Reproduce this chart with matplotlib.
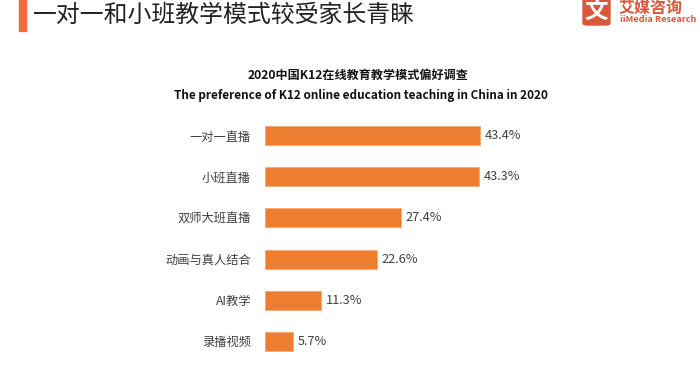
import matplotlib.pyplot as plt
from matplotlib.patches import FancyBboxPatch, Rectangle

plt.rcParams['font.family'] = ['Noto Sans CJK SC', 'DejaVu Sans']

# Data
categories = ["一对一直播", "小班直播", "双师大班直播", "动画与真人结合", "AI教学", "录播视频"]
values = [43.4, 43.3, 27.4, 22.6, 11.3, 5.7]
value_labels = ["43.4%", "43.3%", "27.4%", "22.6%", "11.3%", "5.7%"]

page_title = "一对一和小班教学模式较受家长青睐"
chart_title_cn = "2020中国K12在线教育教学模式偏好调查"
chart_title_en = "The preference of K12 online education teaching in China in 2020"

W, H = 700, 368
fig = plt.figure(figsize=(W / 100, H / 100), dpi=100)

# Header: accent bar + title
fig.patches.append(Rectangle((19 / W, 1 - 31 / H), 7 / W, 31 / H,
                             transform=fig.transFigure, color="#f26b3a", zorder=3))
fig.text(33 / W, 1 - 15 / H, page_title, fontsize=17.2, color="#222222",
         va="center", ha="left")

# Logo
fig.patches.append(FancyBboxPatch((583 / W, 1 - 25 / H), 27 / W, 27 / H,
                                  boxstyle="round,pad=0,rounding_size=0.006",
                                  transform=fig.transFigure, color="#d9573b", zorder=3))
fig.text(596.5 / W, 1 - 11 / H, "文", fontsize=17, color="white", weight="bold",
         ha="center", va="center", zorder=4)
fig.text(619 / W, 1 - 7.5 / H, "艾媒咨询", fontsize=11.5, color="#d9573b", weight="bold",
         ha="left", va="center")
fig.text(620 / W, 1 - 20 / H, "iiMedia Research", fontsize=6.6, color="#d9573b",
         weight="bold", ha="left", va="center")

# Chart titles
fig.text(358 / W, 1 - 75 / H, chart_title_cn, fontsize=8.7, color="#111111",
         weight="bold", ha="center", va="center")
fig.text(361 / W, 1 - 96 / H, chart_title_en, fontsize=8.5, color="#111111",
         weight="bold", ha="center", va="center")

# Bars
ax = fig.add_axes([265 / W, 1 - 362 / H, 247.5 / W, 247 / H])
y = list(range(len(categories)))
ax.barh(y, values, height=0.46, color="#ED7D31", edgecolor="#f4a46b", linewidth=0.5)
ax.set_xlim(0, 50)
ax.set_ylim(len(categories) - 0.5, -0.5)
ax.set_yticks(y)
ax.set_yticklabels(categories, fontsize=8.8, color="#404040")
ax.tick_params(axis="y", length=0, pad=10)
ax.set_xticks([])
for s in ax.spines.values():
    s.set_visible(False)

for yi, v, lab in zip(y, values, value_labels):
    ax.text(v + 0.9, yi, lab, fontsize=9.2, color="#404040", va="center", ha="left")

plt.savefig("out.png", dpi=100)
